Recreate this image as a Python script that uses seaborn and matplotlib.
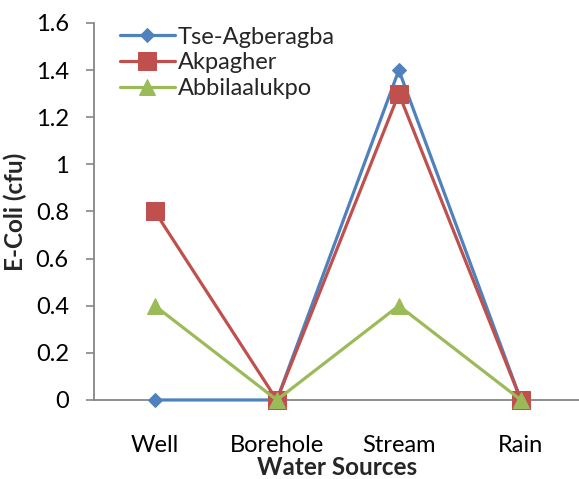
import matplotlib
matplotlib.use("Agg")
import matplotlib.pyplot as plt
import seaborn as sns
import pandas as pd

sources = ["Well", "Borehole", "Stream", "Rain"]
tse_agberagba = [0.0, 0.0, 1.4, 0.0]
akpagher = [0.8, 0.0, 1.3, 0.0]
abbilaalukpo = [0.4, 0.0, 0.4, 0.0]
y_ticks = [0, 0.2, 0.4, 0.6, 0.8, 1.0, 1.2, 1.4, 1.6]
y_tick_labels = ["0", "0.2", "0.4", "0.6", "0.8", "1", "1.2", "1.4", "1.6"]

series = {
    "Tse-Agberagba": tse_agberagba,
    "Akpagher": akpagher,
    "Abbilaalukpo": abbilaalukpo,
}
df = pd.DataFrame(
    [(s, src, v) for s, vals in series.items() for src, v in zip(sources, vals)],
    columns=["Site", "Source", "Ecoli"],
)

sns.set_theme(style="white")
plt.rcParams["font.family"] = ["Lato", "DejaVu Sans"]

FS = 17

fig = plt.figure(figsize=(5.79, 4.79), dpi=100)
ax = fig.add_axes([0.162, 0.165, 0.843, 0.787])

palette = {"Tse-Agberagba": "#4F81BD", "Akpagher": "#C0504D", "Abbilaalukpo": "#9BBB59"}
markers = {"Tse-Agberagba": "D", "Akpagher": "s", "Abbilaalukpo": "^"}
msizes = {"Tse-Agberagba": 7.5, "Akpagher": 13, "Abbilaalukpo": 11}

for name in series:
    sub = df[df["Site"] == name]
    sns.lineplot(
        data=sub, x="Source", y="Ecoli", ax=ax, color=palette[name],
        marker=markers[name], markersize=msizes[name], markeredgecolor=palette[name],
        linewidth=2.3, label=name, sort=False, clip_on=False,
    )

ax.set_xlim(-0.5, 3.5)
ax.set_ylim(0, 1.6)
ax.set_yticks(y_ticks)
ax.set_yticklabels(y_tick_labels)
ax.tick_params(axis="y", which="major", direction="out", length=6, width=1.2,
               color="#868686", left=True, labelsize=FS, pad=12)
ax.tick_params(axis="x", bottom=False, labelsize=FS, pad=19)
for t in ax.get_xticklabels() + ax.get_yticklabels():
    t.set_color("black")

for side in ["top", "right"]:
    ax.spines[side].set_visible(False)
for side in ["left", "bottom"]:
    ax.spines[side].set_color("#868686")
    ax.spines[side].set_linewidth(1.3)
ax.spines["bottom"].set_zorder(0)

ax.set_xlabel("Water Sources", fontsize=FS + 0.5, fontweight="bold")
ax.xaxis.set_label_coords(0.499, -0.148)
ax.set_ylabel("E-Coli (cfu)", fontsize=FS + 0.5, fontweight="bold", labelpad=6)

leg = ax.legend(loc="upper left", bbox_to_anchor=(0.053, 0.99), frameon=False,
                fontsize=FS, handlelength=2.35, handletextpad=0.12,
                labelspacing=0.2, borderaxespad=0, borderpad=0)

fig.savefig("out.png", dpi=100)
